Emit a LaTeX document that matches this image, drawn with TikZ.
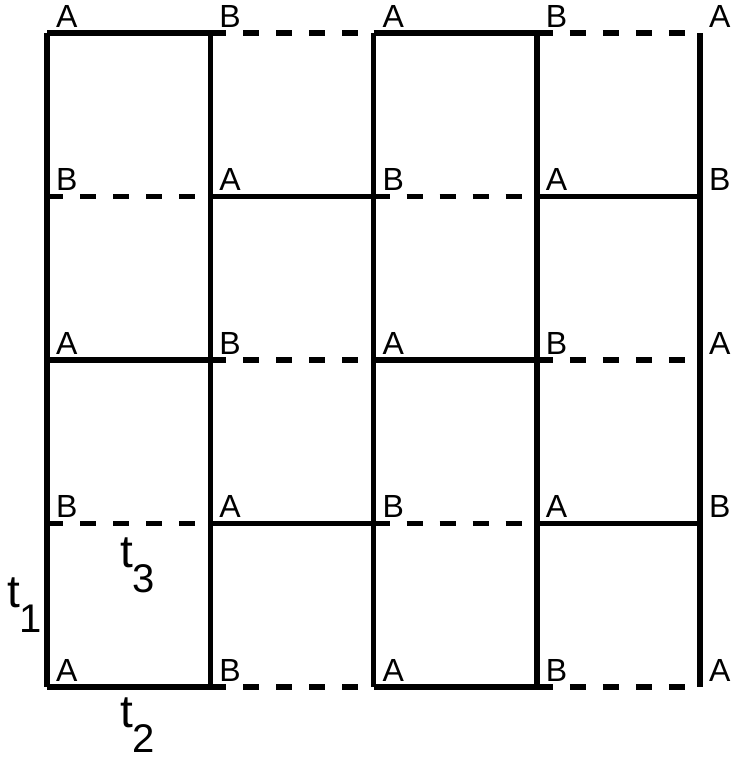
\documentclass[tikz,border=0pt]{standalone}
\usepackage{fontspec}
\setmainfont{Liberation Sans}
\usetikzlibrary{positioning, calc}
\tikzset{
    gridLine/.style={line width=5.5pt, line cap=butt},
    dashLine/.style={gridLine, dash pattern=on 16pt off 17pt},
    cornerLabel/.style={anchor=base west, inner sep=0pt, font=\fontsize{32}{34}\selectfont},
    tLabel/.style={anchor=base west, inner sep=0pt, font=\fontsize{46}{48}\selectfont}
}
\newcommand{\tSub}[1]{t\raisebox{-25pt}{\fontsize{40}{42}\selectfont #1}}

\begin{document}
\begin{tikzpicture}[x=1pt, y=-1pt]

        \useasboundingbox (0,0) rectangle (732,761);

        % --- Coordinates ---
        \foreach \i in {0,...,4} {
            \foreach \j in {0,...,4} {
                \coordinate (v-\i-\j) at ({47+163.25*\i}, {33+163.5*\j});
            }
        }

        % --- Horizontal edges (solid from A, dashed from B) ---
        \foreach \i [evaluate=\i as \k using int(\i+1)] in {0,...,3} {
            \foreach \j in {0,...,4} {
                \pgfmathparse{int(mod(\i+\j,2))}
                \ifnum\pgfmathresult=0
                    \draw[gridLine] (v-\i-\j) -- (v-\k-\j);
                \else
                    \draw[dashLine] (v-\i-\j) -- (v-\k-\j);
                \fi
            }
        }

        % --- Vertical edges ---
        \foreach \i in {0,...,4} {
            \draw[gridLine] (v-\i-0) -- (v-\i-4);
        }

        % --- Corner Labels ---
        \foreach \i in {0,...,4} {
            \foreach \j in {0,...,4} {
                \pgfmathparse{int(mod(\i+\j,2))}
                \ifnum\pgfmathresult=0
                    \node[cornerLabel, xshift=9pt, yshift=6pt] (l-\i-\j) at (v-\i-\j) {A};
                \else
                    \node[cornerLabel, xshift=9pt, yshift=6pt] (l-\i-\j) at (v-\i-\j) {B};
                \fi
            }
        }

        % --- Period labels ---
        \node[tLabel] (t1) at ($(v-0-4)+(-40,-80)$) {\tSub{1}};
        \node[tLabel] (t3) at ($(v-0-3)+(73,44)$) {\tSub{3}};
        \node[tLabel] (t2) at ($(v-0-4)+(73,40)$) {\tSub{2}};

\end{tikzpicture}
\end{document}
